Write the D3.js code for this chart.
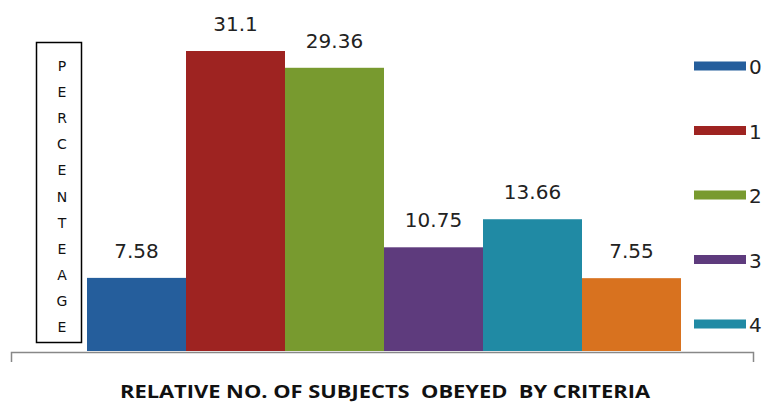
<!DOCTYPE html>
<html><head><meta charset="utf-8">
<script src="https://cdn.jsdelivr.net/npm/d3@7"></script>
<style>body{margin:0;background:#fff;}svg{display:block;}</style>
</head><body>
<svg id="chart" width="763" height="405"></svg>
<script>
const categories = ["0","1","2","3","4","5"];
const values = [7.58, 31.1, 29.36, 10.75, 13.66, 7.55];
const colors = ["#255E9C","#9E2321","#789A2F","#5E3B7D","#208AA4","#D8721F"];
const legendItems = ["0","1","2","3","4"];
const yLabel = "PERCENTEAGE";
const xTitle = "RELATIVE NO. OF SUBJECTS  OBEYED  BY CRITERIA";

const svg = d3.select("#chart");
const base = 351;
const x = d3.scaleBand().domain(categories).range([87, 681]).padding(0);
const y = d3.scaleLinear().domain([0, 31.1]).range([base, 51]);

svg.selectAll("rect.bar").data(values).join("rect")
  .attr("class","bar")
  .attr("x",(d,i)=>x(categories[i]))
  .attr("width",x.bandwidth())
  .attr("y",d=>y(d))
  .attr("height",d=>base-y(d))
  .attr("fill",(d,i)=>colors[i]);

svg.selectAll("text.val").data(values).join("text")
  .attr("class","val")
  .attr("x",(d,i)=>x(categories[i])+x.bandwidth()/2)
  .attr("y",d=>y(d)-20)
  .attr("text-anchor","middle")
  .attr("font-family","DejaVu Sans, sans-serif")
  .attr("font-size",20)
  .attr("fill","#222")
  .text(d=>d);

// x axis line
svg.append("path")
  .attr("d",`M11.5,362V${base+1.5}H753.5V362`)
  .attr("fill","none").attr("stroke","#888").attr("stroke-width",1.5);

// y label box
svg.append("rect").attr("x",36.5).attr("y",42.5).attr("width",45).attr("height",300)
  .attr("fill","#fff").attr("stroke","#000").attr("stroke-width",1.5);
const letters = yLabel.split("");
const ly = d3.scalePoint().domain(d3.range(letters.length)).range([66,327]);
svg.selectAll("text.yl").data(letters).join("text")
  .attr("class","yl")
  .attr("x",62).attr("y",(d,i)=>ly(i)+5)
  .attr("text-anchor","middle")
  .attr("font-family","DejaVu Sans, sans-serif")
  .attr("font-size",14)
  .attr("fill","#111")
  .text(d=>d);

// legend
const lg = d3.scalePoint().domain(legendItems).range([66,324]);
svg.selectAll("rect.lg").data(legendItems).join("rect")
  .attr("class","lg")
  .attr("x",694).attr("y",d=>lg(d)-4.5).attr("width",52).attr("height",9)
  .attr("fill",(d,i)=>colors[i]);
svg.selectAll("text.lg").data(legendItems).join("text")
  .attr("class","lg")
  .attr("x",749).attr("y",d=>lg(d)+8)
  .attr("font-family","DejaVu Sans, sans-serif")
  .attr("font-size",20)
  .attr("fill","#222")
  .text(d=>d);

// x title
svg.append("text")
  .attr("x",385).attr("y",398)
  .attr("text-anchor","middle")
  .attr("font-family","Open Sans, Liberation Sans, sans-serif")
  .attr("font-weight","bold")
  .attr("font-size",17.5)
  .attr("textLength",530)
  .attr("lengthAdjust","spacingAndGlyphs")
  .attr("fill","#111")
  .attr("xml:space","preserve")
  .style("white-space","pre")
  .text(xTitle);
</script>
</body></html>
